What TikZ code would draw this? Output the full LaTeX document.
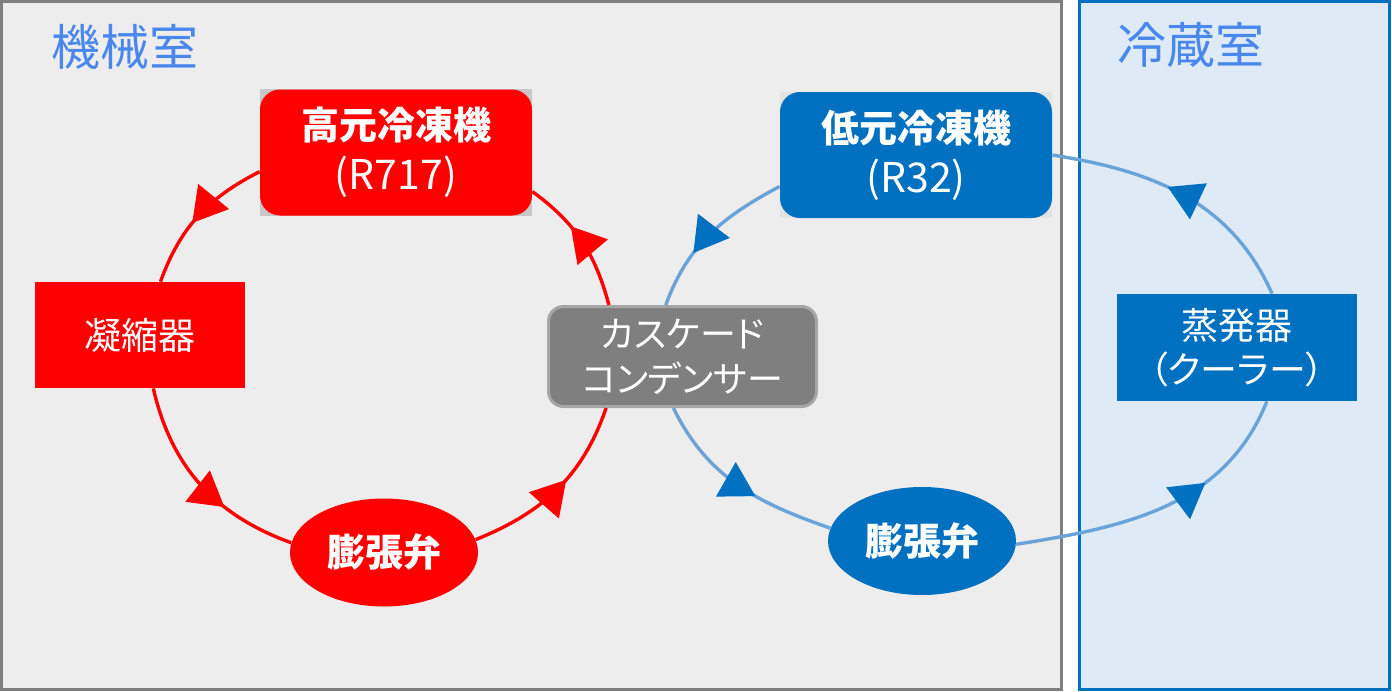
\documentclass[tikz,border=0pt]{standalone}
\usepackage{fontspec}
\setmainfont{Noto Sans CJK JP}[RawFeature=+palt]
\usepackage{tikz}
\usetikzlibrary{arrows.meta,shapes.geometric,decorations.markings,backgrounds}
\definecolor{hotred}{HTML}{FF0000}
\definecolor{coldblue}{HTML}{0070C0}
\definecolor{pipeblue}{HTML}{6AA3D8}
\definecolor{roomgray}{HTML}{EDEDED}
\definecolor{wallgray}{HTML}{7F7F7F}
\definecolor{coldroom}{HTML}{DEEBF7}
\definecolor{labelblue}{HTML}{4A87EC}
\definecolor{cascedge}{HTML}{A6A6A6}
\tikzset{
  room/.style    ={line width=1.5pt},
  roomlbl/.style ={font=\fontsize{24.5}{28}\selectfont,text=labelblue,inner sep=0pt},
  unit/.style    ={rounded corners=10pt,minimum width=136pt,minimum height=63pt,inner sep=0pt,align=center,text=white,font=\fontsize{19}{25}\selectfont},
  hiunit/.style  ={unit,fill=hotred},
  lounit/.style  ={unit,fill=coldblue},
  hx/.style      ={minimum height=53pt,inner sep=0pt,align=center,text=white,font=\fontsize{18.5}{22}\selectfont},
  casc/.style    ={hx,rounded corners=7.5pt,fill=wallgray,draw=cascedge,line width=1.5pt,minimum width=134pt,minimum height=50pt,font=\fontsize{18}{22.5}\selectfont},
  valve/.style   ={ellipse,minimum width=94pt,minimum height=54pt,inner sep=0pt,text=white,font=\fontsize{19}{22}\selectfont\bfseries},
  backdrop/.style={fill=#1},
  rpipe/.style   ={line width=1.7pt,draw=hotred,postaction=decorate,
                   decoration={markings,mark=at position #1 with {\arrow{Triangle[length=17pt,width=19.5pt,color=hotred]}}}},
  bpipe/.style   ={line width=1.7pt,draw=pipeblue,postaction=decorate,
                   decoration={markings,mark=at position #1 with {\arrow{Triangle[length=17pt,width=19.5pt,color=coldblue]}}}},
}
\begin{document}
\begin{tikzpicture}[x=0.5pt,y=0.5pt]
  \useasboundingbox (0,0) rectangle (1392,-691);

  % rooms
  \node[roomlbl] (mach) at (125,-47) {機械室};
  \node[roomlbl] (cold) at (1191,-45) {冷蔵室};

  % high stage
  \node[hiunit] (hi) at (396,-152.5) {{\bfseries 高元冷凍機}\\{\fontsize{20.5}{25}\selectfont (R717)}};
  \node[hx,fill=hotred,minimum width=105pt] (cond) at (140,-335) {凝縮器};
  \node[valve,fill=hotred] (exp1) at (384,-552.5) {膨張弁};
  \node[casc] (casc) at (682.5,-356.5) {カスケード\\コンデンサー};

  % low stage
  \node[lounit] (lo) at (916,-155) {{\bfseries 低元冷凍機}\\{\fontsize{20.5}{25}\selectfont (R32)}};
  \node[valve,fill=coldblue] (exp2) at (922,-541) {膨張弁};
  \node[hx,fill=coldblue,minimum width=120pt,minimum height=53.5pt] (evap) at (1237,-347.5) {蒸発器\\（クーラー）};

  \begin{scope}[on background layer]
    \draw[room,fill=roomgray,draw=wallgray] (1.5,-1.5) rectangle (1061.5,-689.5);
    \draw[room,fill=coldroom,draw=coldblue] (1079,-1.5) rectangle (1389.5,-689.5);
    \fill[backdrop=black!22] (hi.south west) rectangle (hi.north east);
    \fill[backdrop=black!11] (lo.south west) rectangle (lo.north east);
    \fill[backdrop=black!11] (exp1.south west) rectangle (exp1.north east);
    \fill[backdrop=black!10] (exp2.south west) rectangle (exp2.north east);
  \end{scope}

  \draw[rpipe=0.56] (hi.188) to[out=207,in=70] (cond.69);
  \draw[rpipe=0.65] (cond.284) to[out=283,in=160] (exp1.174);
  \draw[rpipe=0.57] (exp1.8) to[out=22,in=251] (casc.214);
  \draw[rpipe=0.63] (casc.145) to[out=105,in=324] (hi.344);

  \draw[bpipe=0.65] (lo.193) to[out=208,in=70] (casc.108);
  \draw[bpipe=0.60] (casc.260) to[out=296,in=161] (exp2.172);
  \draw[bpipe=0.66] (exp2.358) to[out=9,in=248] (evap.299);
  \draw[bpipe=0.56] (evap.57) to[out=114,in=351] (lo.0);
\end{tikzpicture}
\end{document}
